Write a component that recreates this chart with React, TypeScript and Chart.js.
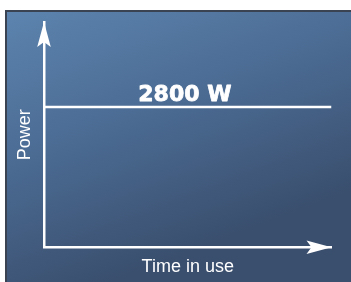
import React, { useEffect, useRef } from "react";
import { Chart, registerables } from "chart.js";

Chart.register(...registerables);

// Data
const timePoints: number[] = [0, 10];
const powerValues: number[] = [2800, 2800];
const powerLabel = "2800 W";
const labelAt = 4.9; // x position (time units) where the value label is centred
const xTitle = "Time in use";
const yTitle = "Power";
const xMax = 10;
const yMax = 4500;

const backgroundPlugin = {
  id: "panelBackground",
  beforeDraw(chart: any) {
    const { ctx, width, height } = chart;
    ctx.save();
    ctx.fillStyle = "#ffffff";
    ctx.fillRect(0, 0, width, height);
    ctx.fillStyle = "#3a4352";
    ctx.fillRect(5, 10, width - 5, height - 10);
    const g = ctx.createLinearGradient(7, 12, 110, height);
    g.addColorStop(0, "#5c84ae");
    g.addColorStop(0.5, "#4b6b93");
    g.addColorStop(1, "#3a4f6e");
    ctx.fillStyle = g;
    ctx.fillRect(7, 12, width - 7, height - 12);
    ctx.restore();
  },
};

const arrowsPlugin = {
  id: "axisArrows",
  afterDraw(chart: any) {
    const { ctx, chartArea, scales } = chart;
    const x0 = scales.x.getPixelForValue(0);
    const y0 = scales.y.getPixelForValue(0);
    ctx.save();
    ctx.fillStyle = "#ffffff";
    // x arrow
    const tx = chartArea.right;
    ctx.beginPath();
    ctx.moveTo(tx, y0);
    ctx.lineTo(tx - 25, y0 - 6.8);
    ctx.lineTo(tx - 20, y0);
    ctx.lineTo(tx - 25, y0 + 6.8);
    ctx.closePath();
    ctx.fill();
    // y arrow
    const ty = chartArea.top;
    ctx.beginPath();
    ctx.moveTo(x0, ty);
    ctx.lineTo(x0 - 6.8, ty + 25);
    ctx.lineTo(x0, ty + 20);
    ctx.lineTo(x0 + 6.8, ty + 25);
    ctx.closePath();
    ctx.fill();
    // value label
    const lx = scales.x.getPixelForValue(labelAt);
    const ly = scales.y.getPixelForValue(powerValues[0]);
    ctx.font = "bold 22px 'DejaVu Sans'";
    ctx.textAlign = "center";
    ctx.textBaseline = "alphabetic";
    ctx.strokeStyle = "#ffffff";
    ctx.lineWidth = 0.8;
    ctx.lineJoin = "round";
    ctx.fillText(powerLabel, lx, ly - 5.8);
    ctx.strokeText(powerLabel, lx, ly - 5.8);
    ctx.restore();
  },
};

export default function App() {
  const canvasRef = useRef<HTMLCanvasElement | null>(null);

  useEffect(() => {
    document.body.style.margin = "0";
    const canvas = canvasRef.current;
    if (!canvas) return;
    Chart.defaults.font.family = "'Liberation Sans', Arial, sans-serif";
    const chart = new Chart(canvas, {
      type: "line",
      data: {
        datasets: [
          {
            data: timePoints.map((t, i) => ({ x: t, y: powerValues[i] })),
            borderColor: "#ffffff",
            borderWidth: 2.5,
            pointRadius: 0,
            fill: false,
          },
        ],
      },
      options: {
        animation: false,
        responsive: true,
        maintainAspectRatio: false,
        layout: { padding: { left: 8, top: 22, right: 19.5, bottom: 0 } },
        plugins: { legend: { display: false }, tooltip: { enabled: false } },
        scales: {
          x: {
            type: "linear",
            min: 0,
            max: xMax,
            grid: { display: false, drawTicks: false },
            ticks: { display: false },
            border: { display: true, color: "#ffffff", width: 2.5 },
            title: {
              display: true,
              text: xTitle,
              color: "#ffffff",
              font: { size: 18 },
              padding: { top: 8.6, bottom: 4.5 },
            },
          },
          y: {
            type: "linear",
            min: 0,
            max: yMax,
            grid: { display: false, drawTicks: false },
            ticks: { display: false },
            border: { display: true, color: "#ffffff", width: 2.5 },
            title: {
              display: true,
              text: yTitle,
              color: "#ffffff",
              font: { size: 18 },
              padding: { top: 6.6, bottom: 7.8 },
            },
          },
        },
      },
      plugins: [backgroundPlugin, arrowsPlugin],
    });
    return () => chart.destroy();
  }, []);

  return (
    <div style={{ position: "fixed", left: 0, top: 0, width: 351, height: 282 }}>
      <canvas ref={canvasRef} />
    </div>
  );
}
